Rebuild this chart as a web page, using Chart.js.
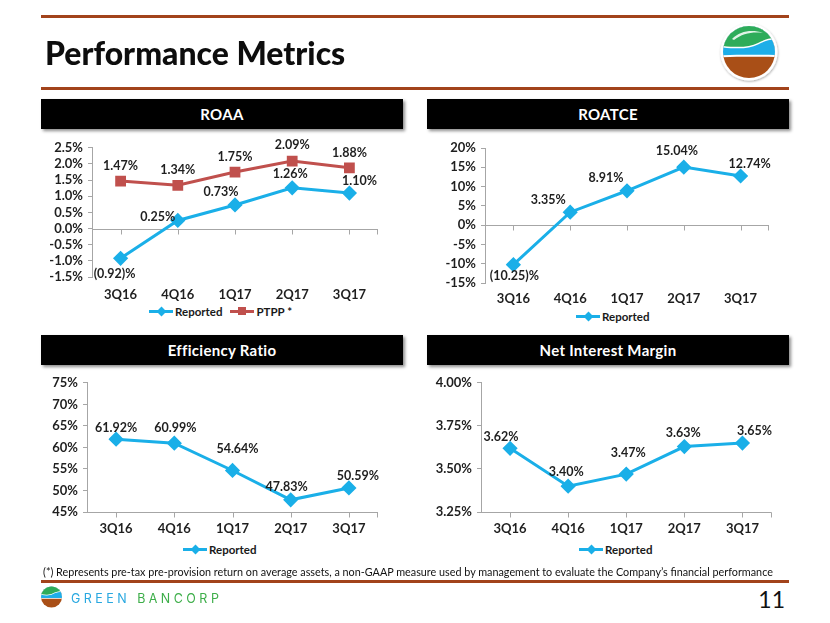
<!DOCTYPE html>
<html><head><meta charset="utf-8">
<script src="https://cdn.jsdelivr.net/npm/chart.js@4"></script>
<style>
body{margin:0;width:830px;height:623px;background:#fff;position:relative;overflow:hidden;font-family:Lato,'Open Sans',sans-serif;color:#111;}
.rule{position:absolute;left:41px;width:748px;height:3px;background:#A2431B;}
.hdr{position:absolute;height:30px;background:#000;color:#fff;font-weight:bold;font-size:15px;display:flex;align-items:center;justify-content:center;box-shadow:2px 2px 3px rgba(0,0,0,0.45);letter-spacing:0.3px;}
.cv{position:absolute;}
.leg{position:absolute;display:flex;align-items:center;font-weight:bold;font-size:11.5px;color:#1a1a1a;white-space:nowrap;}
.leg .ln{position:relative;width:24px;height:3px;margin-right:2px;}
.leg .mk{position:absolute;left:8px;top:-3px;width:8px;height:8px;}
.leg .dia{transform:rotate(45deg);width:7px;height:7px;left:8.5px;top:-2px;}
.fit{position:absolute;white-space:nowrap;transform-origin:0 50%;}
</style>
</head><body>
<div class="rule" style="top:15px"></div>
<div class="fit" id="title" style="left:45px;top:30px;font-size:33px;font-weight:900;color:#0d0d0d;line-height:44px;">Performance Metrics</div>
<div class="rule" style="top:87px"></div>

<svg class="cv" style="left:716px;top:19px" width="68" height="68" viewBox="0 0 68 68">
  <defs>
    <clipPath id="lc"><circle cx="33" cy="33" r="26"/></clipPath>
    <filter id="sh" x="-20%" y="-20%" width="140%" height="140%"><feDropShadow dx="0.5" dy="1" stdDeviation="1.2" flood-color="#000" flood-opacity="0.35"/></filter>
  </defs>
  <circle cx="33" cy="33" r="28.5" fill="#fff" filter="url(#sh)"/>
  <g clip-path="url(#lc)">
    <rect x="0" y="0" width="68" height="68" fill="#A94F17"/>
    <path d="M0 0 H68 V38.5 C50 37.5 20 37.5 0 38.5 Z" fill="#fff"/>
    <path d="M0 0 H68 V36.5 C50 35.5 20 35.5 0 36.5 Z" fill="#1EAEE8"/>
    <path d="M0 0 H68 V22 C58 19 50 21 42 25.5 C32 30.5 18 30 0 27.5 Z" fill="#fff"/>
    <path d="M0 0 H68 V20.5 C58 17.5 50 19.5 42 24 C32 29 18 28.5 0 26 Z" fill="#2EAC5A"/>
    <path d="M16 20 C24 12 36 10 47 14 C37 12.5 26 14.5 18 21 Z" fill="#fff" opacity="0.85"/>
  </g>
</svg>

<div class="hdr" style="left:41px;top:99px;width:362px;">ROAA</div>
<div class="hdr" style="left:427px;top:99px;width:362px;">ROATCE</div>
<div class="hdr" style="left:41px;top:335px;width:362px;">Efficiency Ratio</div>
<div class="hdr" style="left:427px;top:335px;width:362px;">Net Interest Margin</div>

<canvas id="c1" class="cv" style="left:40px;top:135px" width="350" height="170"></canvas>
<canvas id="c2" class="cv" style="left:420px;top:135px" width="360" height="175"></canvas>
<canvas id="c3" class="cv" style="left:40px;top:370px" width="350" height="170"></canvas>
<canvas id="c4" class="cv" style="left:420px;top:370px" width="360" height="170"></canvas>

<div class="leg" style="left:149px;top:305px;"><span class="ln" style="background:#1AAFE8"><span class="mk dia" style="background:#1AAFE8"></span></span><span>Reported</span>
<span class="ln" style="background:#C0504D;margin-left:8px"><span class="mk" style="background:#C0504D"></span></span><span>PTPP *</span></div>
<div class="leg" style="left:576px;top:310px;"><span class="ln" style="background:#1AAFE8"><span class="mk dia" style="background:#1AAFE8"></span></span><span>Reported</span></div>
<div class="leg" style="left:183px;top:543px;"><span class="ln" style="background:#1AAFE8"><span class="mk dia" style="background:#1AAFE8"></span></span><span>Reported</span></div>
<div class="leg" style="left:579px;top:543px;"><span class="ln" style="background:#1AAFE8"><span class="mk dia" style="background:#1AAFE8"></span></span><span>Reported</span></div>

<div class="fit" id="foot" style="left:43px;top:564px;font-size:12px;line-height:16px;color:#111;">(*) Represents pre-tax pre-provision return on average assets, a non-GAAP measure used by management to evaluate the Company’s financial performance</div>
<div class="rule" style="top:580px"></div>

<svg class="cv" style="left:40px;top:586px" width="24" height="24" viewBox="0 0 24 24">
  <defs><clipPath id="sc"><circle cx="11.5" cy="11" r="10.5"/></clipPath></defs>
  <g clip-path="url(#sc)">
    <rect x="0" y="0" width="24" height="24" fill="#A94F17"/>
    <path d="M0 0 H24 V12.8 H0 Z" fill="#fff"/>
    <path d="M0 0 H24 V12 H0 Z" fill="#1EAEE8"/>
    <path d="M0 0 H24 V6.5 C19 5 16 6.5 13 8 C9 10 5 9.5 0 8.5 Z" fill="#fff"/>
    <path d="M0 0 H24 V5.8 C19 4.3 16 5.8 13 7.3 C9 9.3 5 8.8 0 7.8 Z" fill="#2EAC5A"/>
  </g>
</svg>
<div class="fit" id="brand" style="left:71px;top:590px;font-size:13px;line-height:16px;letter-spacing:3.6px;font-family:Inter,Lato,sans-serif;"><span style="color:#29A8E0">GREEN</span> <span style="color:#3DAE49">BANCORP</span></div>
<div style="position:absolute;right:45px;top:585px;font-size:23px;line-height:28px;color:#111;">11</div>

<script>
const quarters = ['3Q16', '4Q16', '1Q17', '2Q17', '3Q17'];
const roaaReported = [-0.92, 0.25, 0.73, 1.26, 1.10];
const roaaPtpp = [1.47, 1.34, 1.75, 2.09, 1.88];
const roatceReported = [-10.25, 3.35, 8.91, 15.04, 12.74];
const efficiencyReported = [61.92, 60.99, 54.64, 47.83, 50.59];
const nimReported = [3.62, 3.40, 3.47, 3.63, 3.65];
const roaaAxis = [-1.5, 2.5, 0.5, 1];      // min, max, step, decimals
const roatceAxis = [-15, 20, 5, 0];
const efficiencyAxis = [45, 75, 5, 0];
const nimAxis = [3.25, 4.00, 0.25, 2];

const BLUE = '#1AAFE8', RED = '#C0504D', AXIS = '#A6A6A6', TXT = '#1f1f1f';

function fmtVal(v) {
  return v < 0 ? '(' + Math.abs(v).toFixed(2) + ')%' : v.toFixed(2) + '%';
}

const pointLabels = {
  id: 'pointLabels',
  afterDatasetsDraw(chart, args, opts) {
    const ctx = chart.ctx;
    ctx.save();
    ctx.font = 'bold 12.5px Lato';
    ctx.fillStyle = TXT;
    ctx.textAlign = 'center';
    ctx.textBaseline = 'middle';
    chart.data.datasets.forEach((ds, i) => {
      const meta = chart.getDatasetMeta(i);
      const offs = (opts.offsets || [])[i] || [];
      meta.data.forEach((pt, j) => {
        const o = offs[j] || [0, -14];
        ctx.fillText(fmtVal(ds.data[j]), pt.x + o[0], pt.y + o[1]);
      });
    });
    ctx.restore();
  }
};

const baseTicks = {
  id: 'baseTicks',
  beforeDatasetsDraw(chart, args, opts) {
    const ctx = chart.ctx, xs = chart.scales.x, ys = chart.scales.y;
    const y = Math.round(ys.getPixelForValue(opts.value)) + 0.5;
    ctx.save();
    ctx.strokeStyle = AXIS;
    ctx.lineWidth = 1;
    ctx.beginPath();
    ctx.moveTo(chart.chartArea.left, y);
    ctx.lineTo(chart.chartArea.right, y);
    const n = chart.data.labels.length;
    for (let i = 0; i < n; i++) {
      const x = Math.round(xs.getPixelForValue(i)) + 0.5;
      ctx.moveTo(x, y); ctx.lineTo(x, y + 5);
    }
    const xr = Math.round(chart.chartArea.right) - 0.5;
    ctx.moveTo(xr, y); ctx.lineTo(xr, y + 5);
    ctx.stroke();
    ctx.restore();
  }
};

function makeChart(id, datasets, axis, base, yWidth, xHeight, pad, offsets) {
  const [mn, mx, step, dec] = axis;
  return new Chart(document.getElementById(id), {
    type: 'line',
    data: { labels: quarters, datasets },
    options: {
      responsive: false,
      animation: false,
      events: [],
      layout: { padding: { top: pad[0], right: pad[1], left: 0, bottom: 0 } },
      plugins: {
        legend: { display: false },
        tooltip: { enabled: false },
        pointLabels: { offsets },
        baseTicks: { value: base }
      },
      scales: {
        x: {
          offset: true,
          grid: { display: false, drawTicks: false },
          border: { display: false },
          ticks: { color: TXT, font: { family: 'Lato', weight: 'bold', size: 13 }, padding: xHeight[1], maxRotation: 0 },
          afterFit(s) { s.height = xHeight[0]; }
        },
        y: {
          min: mn, max: mx,
          grid: { drawOnChartArea: false, tickLength: 4, tickColor: AXIS },
          border: { color: AXIS },
          ticks: {
            stepSize: step, autoSkip: false, color: TXT, padding: 5,
            font: { family: 'Lato', weight: 'bold', size: 13 },
            callback: v => Number(v).toFixed(dec) + '%'
          },
          afterFit(s) { s.width = yWidth; }
        }
      }
    },
    plugins: [baseTicks, pointLabels]
  });
}

function blueSet(data) {
  return { label: 'Reported', data, borderColor: BLUE, backgroundColor: BLUE, borderWidth: 3,
    pointStyle: 'rectRot', pointRadius: 5.5, tension: 0 };
}

Chart.defaults.font.family = 'Lato';

makeChart('c1', [blueSet(roaaReported),
  { label: 'PTPP *', data: roaaPtpp, borderColor: RED, backgroundColor: RED, borderWidth: 3,
    pointStyle: 'rect', pointRadius: 5.5, tension: 0 }],
  roaaAxis, 0, 52, [28, 10], [11, 12],
  [[[-6, 16], [-20, -4], [-14, -13], [-2, -14], [10, -12]],
   [[0, -15], [0, -15], [0, -15], [0, -16], [0, -15]]]);

makeChart('c2', [blueSet(roatceReported)], roatceAxis, 0, 65, [27, 8], [13, 11],
  [[[1, 11], [-22, -12], [-21, -13], [-7, -16], [9, -12]]]);

makeChart('c3', [blueSet(efficiencyReported)], efficiencyAxis, 45, 47, [28, 9], [12, 12],
  [[[0, -11], [1, -15], [5, -22], [-4, -13], [9, -12]]]);

makeChart('c4', [blueSet(nimReported)], nimAxis, 3.25, 61, [28, 9], [11, 7],
  [[[-9, -11], [-2, -14], [2, -21], [-1, -14], [12, -12]]]);

function fitWidth(id, w) {
  const el = document.getElementById(id);
  const cw = el.scrollWidth;
  el.style.transform = 'scaleX(' + (w / cw) + ')';
}
fitWidth('title', 300);
fitWidth('foot', 730);
fitWidth('brand', 151);
</script>
</body></html>
